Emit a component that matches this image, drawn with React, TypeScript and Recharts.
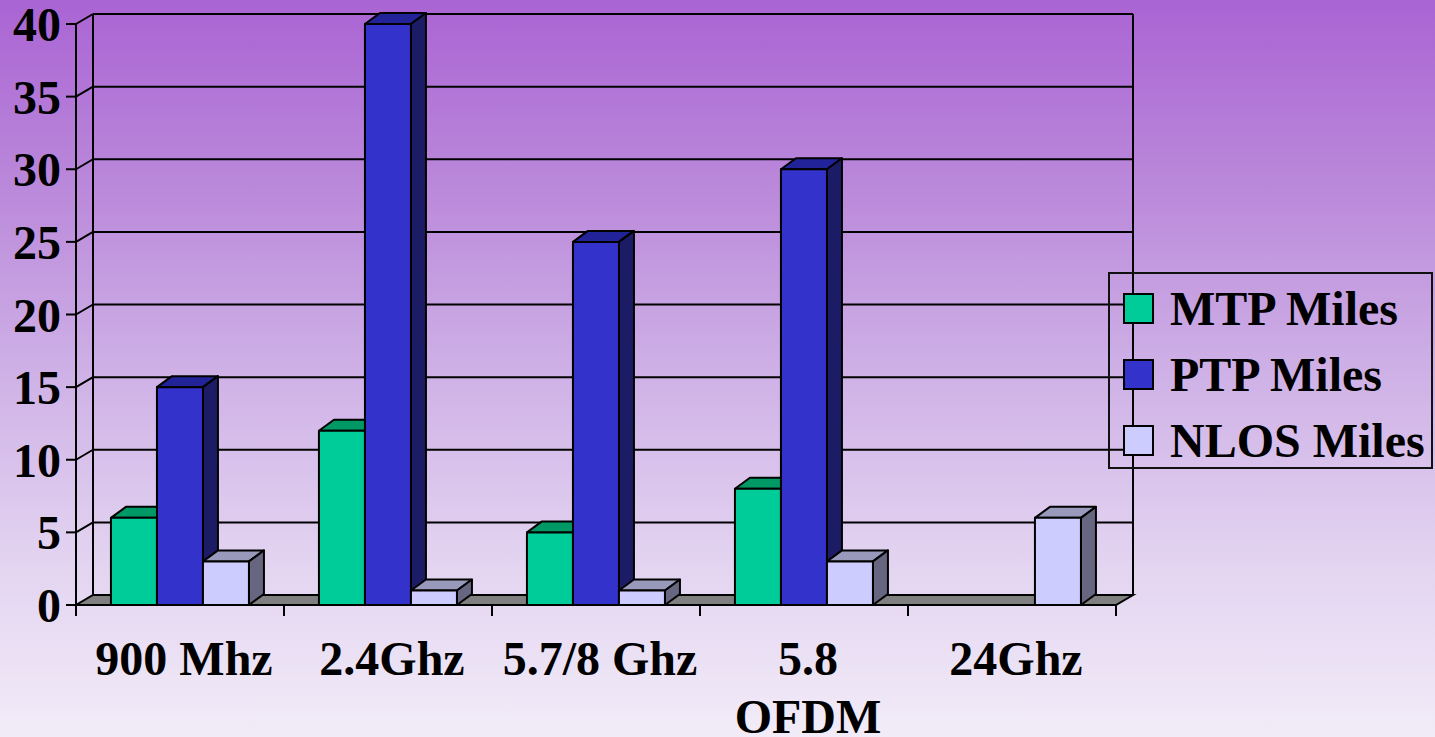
import React from 'react';
import { BarChart, Bar, XAxis, YAxis, CartesianGrid, Legend } from 'recharts';

const categories = ['900 Mhz', '2.4Ghz', '5.7/8 Ghz', '5.8\nOFDM', '24Ghz'];
const mtpMiles = [6, 12, 5, 8, 0];
const ptpMiles = [15, 40, 25, 30, 0];
const nlosMiles = [3, 1, 1, 3, 6];
const yTicks = [0, 5, 10, 15, 20, 25, 30, 35, 40];

const series = [
  { key: 'mtp', name: 'MTP Miles', front: '#00CC99', top: '#009966', side: '#006644' },
  { key: 'ptp', name: 'PTP Miles', front: '#3333CC', top: '#222299', side: '#1C1C66' },
  { key: 'nlos', name: 'NLOS Miles', front: '#CCCCFF', top: '#9999BB', side: '#666680' },
];

const data = categories.map((name, i) => ({
  name,
  mtp: mtpMiles[i],
  ptp: ptpMiles[i],
  nlos: nlosMiles[i],
}));

const FONT = '"Liberation Serif", "Times New Roman", serif';
// depth of the walls / of the bars (fake 3d)
const WALL_DX = 17;
const WALL_DY = 10;
const BAR_DX = 15;
const BAR_DY = 11;

const make3DBar = (s: typeof series[number]) => (props: any) => {
  const { x, y, width, height } = props;
  if (!height || height <= 0) return <g />;
  const r = x + width;
  const b = y + height;
  return (
    <g stroke="#000" strokeWidth={2} strokeLinejoin="round">
      <polygon points={`${x},${y} ${x + BAR_DX},${y - BAR_DY} ${r + BAR_DX},${y - BAR_DY} ${r},${y}`} fill={s.top} />
      <polygon points={`${r},${y} ${r + BAR_DX},${y - BAR_DY} ${r + BAR_DX},${b - BAR_DY} ${r},${b}`} fill={s.side} />
      <rect x={x} y={y} width={width} height={height} fill={s.front} />
    </g>
  );
};

// each horizontal grid line becomes: diagonal on the side wall + line on the back wall
const renderGridLine = (props: any) => {
  const { x1, y1, x2, y, height, index } = props;
  const bx1 = x1 + WALL_DX;
  const bx2 = x2 + WALL_DX;
  const by = y1 - WALL_DY;
  const isFloor = Math.abs(y1 - (y + height)) < 0.5;
  if (isFloor) {
    const topBack = y - WALL_DY;
    return (
      <g key={`grid-${index}`} stroke="#000" strokeWidth={2}>
        <polygon points={`${x1},${y1} ${x2},${y1} ${bx2},${by} ${bx1},${by}`} fill="#808080" />
        <line x1={bx1} y1={topBack} x2={bx1} y2={by} />
        <line x1={bx2} y1={topBack} x2={bx2} y2={by} />
      </g>
    );
  }
  return (
    <g key={`grid-${index}`} stroke="#000" strokeWidth={2} fill="none">
      <line x1={x1} y1={y1} x2={bx1} y2={by} />
      <line x1={bx1} y1={by} x2={bx2} y2={by} />
    </g>
  );
};

const YTick = (props: any) => {
  const { x, y, payload } = props;
  return (
    <g>
      <line x1={x - 10} y1={y} x2={x} y2={y} stroke="#000" strokeWidth={2} />
      <text x={x - 15} y={y + 17} textAnchor="end" fontFamily={FONT} fontWeight="bold" fontSize={48} fill="#000">
        {payload.value}
      </text>
    </g>
  );
};

const XTick = (props: any) => {
  const { x, y, payload, index } = props;
  const half = payload.offset || 104;
  const lines = String(payload.value).split('\n');
  return (
    <g>
      <line x1={x - half} y1={y} x2={x - half} y2={y + 11} stroke="#000" strokeWidth={2} />
      {index === categories.length - 1 && (
        <line x1={x + half} y1={y} x2={x + half} y2={y + 11} stroke="#000" strokeWidth={2} />
      )}
      <text textAnchor="middle" fontFamily={FONT} fontWeight="bold" fontSize={48} fill="#000">
        {lines.map((l, i) => (
          <tspan key={i} x={x + 4} y={y + 70 + i * 58}>
            {l}
          </tspan>
        ))}
      </text>
    </g>
  );
};

const LegendBox = () => (
  <div
    style={{
      width: 321,
      height: 193,
      border: '2px solid #111',
      fontFamily: FONT,
      fontWeight: 'bold',
      fontSize: 48,
      color: '#000',
    }}
  >
    <div style={{ height: 1 }} />
    {series.map((s) => (
      <div key={s.key} style={{ display: 'flex', alignItems: 'center', height: 66 }}>
        <div style={{ width: 27, height: 27, border: '2px solid #000', background: s.front, marginLeft: 13 }} />
        <span style={{ marginLeft: 16, whiteSpace: 'nowrap' }}>{s.name}</span>
      </div>
    ))}
  </div>
);

export default function App() {
  return (
    <div
      style={{
        position: 'absolute',
        left: 0,
        top: 0,
        width: 1435,
        height: 737,
        background:
          'linear-gradient(to bottom, rgb(170,100,212) 0%, rgb(186,136,218) 25%, rgb(206,176,230) 50%, rgb(226,210,240) 75%, rgb(242,236,248) 100%)',
      }}
    >
      <BarChart
        width={1435}
        height={737}
        data={data}
        margin={{ top: 24, right: 319, bottom: 0, left: 0 }}
        barGap={0}
        barCategoryGap="16.8%"
      >
        <CartesianGrid horizontal={renderGridLine} vertical={false} fill="none" />
        <XAxis
          dataKey="name"
          height={132}
          tickSize={0}
          tickMargin={0}
          tickLine={false}
          axisLine={{ stroke: '#000', strokeWidth: 2 }}
          tick={<XTick />}
          interval={0}
        />
        <YAxis
          domain={[0, 40]}
          ticks={yTicks}
          width={76}
          tickSize={0}
          tickMargin={0}
          tickLine={false}
          axisLine={{ stroke: '#000', strokeWidth: 2 }}
          tick={<YTick />}
          interval={0}
        />
        <Legend
          layout="vertical"
          align="center"
          verticalAlign="middle"
          content={<LegendBox />}
          wrapperStyle={{ left: 1108, top: 272, width: 325 }}
        />
        {series.map((s) => (
          <Bar key={s.key} dataKey={s.key} name={s.name} shape={make3DBar(s)} isAnimationActive={false} />
        ))}
      </BarChart>
    </div>
  );
}
